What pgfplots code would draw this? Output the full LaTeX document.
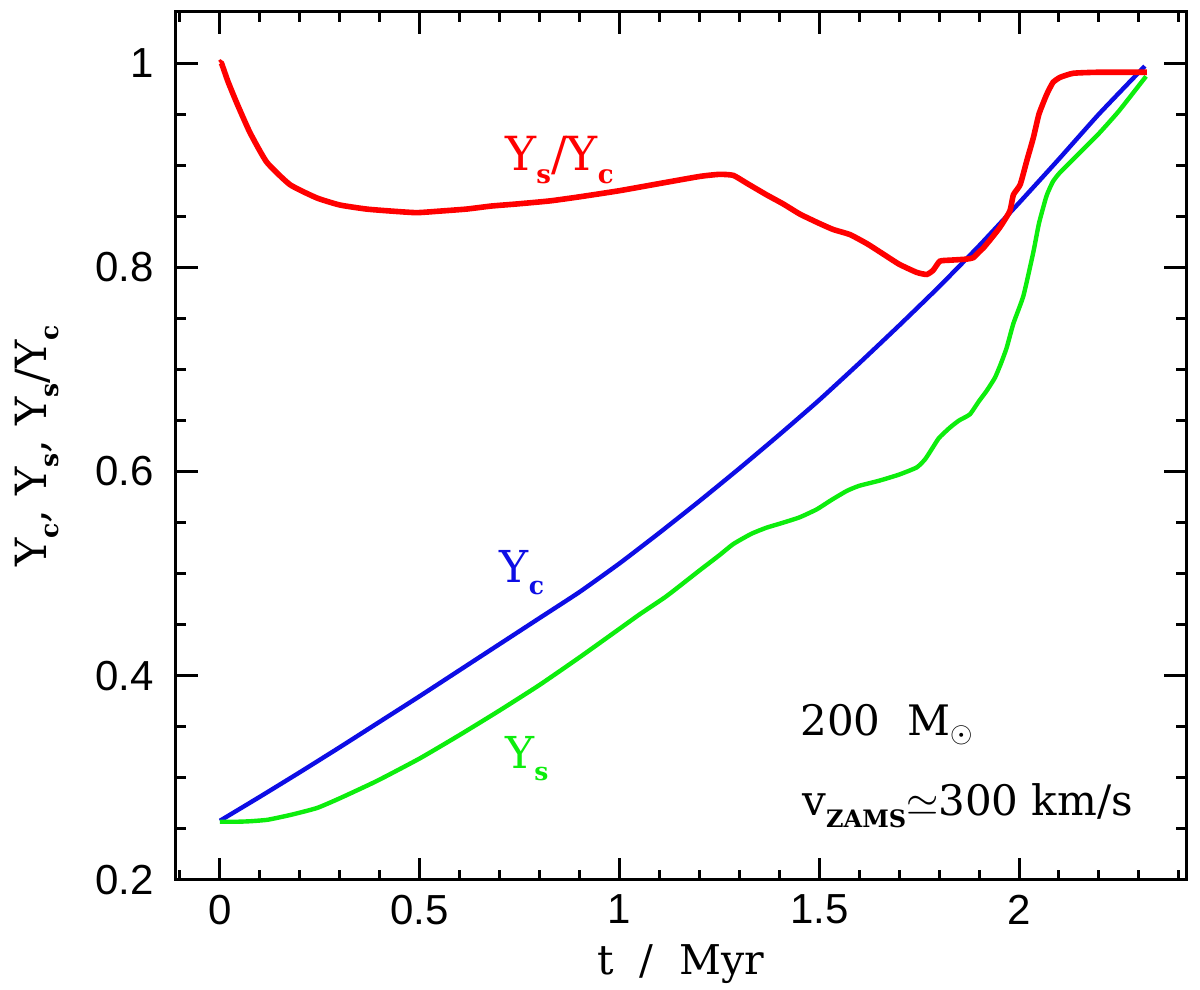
\documentclass[border=0pt]{standalone}
\usepackage{fontspec}
\setmainfont{DejaVu Serif}
\newfontfamily\tickfont{Liberation Sans}
\usepackage{pgfplots}
\usepackage{pgfplotstable}
\pgfplotsset{compat=1.18}
\usetikzlibrary{calc}
\definecolor{cred}{rgb}{1,0,0}
\definecolor{cblue}{rgb}{0.05,0.05,0.9}
\definecolor{cgreen}{rgb}{0.05,0.93,0.05}
\newcommand{\sub}[2][12.5]{\raisebox{-0.28em}{\fontsize{#1}{#1}\selectfont\bfseries #2}}

\pgfplotstableread{
t Y
0.000 0.258
0.100 0.2815
0.200 0.3055
0.300 0.330
0.400 0.355
0.500 0.380
0.600 0.4055
0.700 0.431
0.800 0.4565
0.900 0.482
1.000 0.510
1.100 0.540
1.200 0.571
1.300 0.603
1.400 0.636
1.500 0.670
1.600 0.706
1.700 0.743
1.800 0.781
1.900 0.821
2.000 0.863
2.100 0.906
2.200 0.950
2.315 0.997
}\Yc

\pgfplotstableread{
t Y
0.000 0.257
0.040 0.257
0.075 0.2575
0.120 0.259
0.180 0.264
0.243 0.2705
0.300 0.280
0.393 0.297
0.500 0.319
0.600 0.342
0.700 0.366
0.800 0.391
0.900 0.418
0.993 0.444
1.050 0.460
1.118 0.478
1.200 0.503
1.250 0.518
1.285 0.529
1.330 0.539
1.368 0.545
1.402 0.549
1.450 0.555
1.494 0.563
1.530 0.572
1.569 0.581
1.600 0.586
1.650 0.591
1.700 0.597
1.744 0.604
1.765 0.612
1.785 0.624
1.800 0.633
1.827 0.643
1.850 0.650
1.877 0.656
1.900 0.669
1.919 0.679
1.940 0.692
1.955 0.706
1.969 0.721
1.986 0.745
2.011 0.772
2.036 0.815
2.050 0.843
2.069 0.870
2.085 0.884
2.103 0.893
2.144 0.909
2.200 0.931
2.250 0.953
2.318 0.987
}\Ys

\pgfplotstableread{
t Y
0.000 1.000
0.004 0.9997
0.020 0.982
0.042 0.961
0.075 0.932
0.117 0.903
0.175 0.881
0.242 0.868
0.300 0.861
0.367 0.857
0.430 0.855
0.492 0.8535
0.550 0.855
0.617 0.857
0.680 0.860
0.743 0.862
0.826 0.865
0.900 0.869
1.000 0.875
1.100 0.882
1.2015 0.889
1.250 0.891
1.285 0.890
1.320 0.882
1.368 0.871
1.410 0.862
1.452 0.852
1.500 0.843
1.535 0.837
1.577 0.832
1.620 0.823
1.660 0.813
1.700 0.803
1.744 0.795
1.769 0.793
1.785 0.797
1.802 0.806
1.830 0.807
1.869 0.808
1.886 0.8095
1.900 0.815
1.911 0.819
1.930 0.828
1.952 0.839
1.977 0.855
1.986 0.871
2.003 0.881
2.020 0.905
2.036 0.927
2.050 0.950
2.069 0.969
2.085 0.981
2.103 0.986
2.136 0.990
2.200 0.991
2.320 0.991
}\Ratio

\begin{document}
\begin{tikzpicture}
\begin{axis}[
  scale only axis, width=505pt, height=434pt,
  xmin=-0.11, xmax=2.418, ymin=0.2, ymax=1.05,
  axis line style={line width=1.5pt},
  tick align=inside,
  xtick={0,0.5,1,1.5,2},
  minor xtick={-0.1,0.1,0.2,0.3,0.4,0.6,0.7,0.8,0.9,1.1,1.2,1.3,1.4,1.6,1.7,1.8,1.9,2.1,2.2,2.3,2.4},
  ytick={0.2,0.4,0.6,0.8,1},
  minor ytick={0.25,0.3,0.35,0.45,0.5,0.55,0.65,0.7,0.75,0.85,0.9,0.95},
  major tick length=11pt, minor tick length=5pt,
  tick style={black, line width=1.5pt},
  ticklabel style={font=\tickfont\fontsize{21}{21}\selectfont},
  /pgf/number format/assume math mode=true,
  xticklabel style={yshift=-4pt},
  yticklabel style={xshift=-7.5pt},
  xlabel={t~~/~~Myr},
  xlabel style={font=\fontsize{20.5}{20.5}\selectfont, at={(axis description cs:0.5,0)}, anchor=base, yshift=-47.5pt},
  ylabel={Y\sub[12.5]{c},~Y\sub[12.5]{s},~Y\sub[12.5]{s}/Y\sub[12.5]{c}},
  ylabel style={font=\fontsize{21.5}{21.5}\selectfont, at={(axis description cs:-0.1376,0.5)}, anchor=center},
]
\addplot[cblue, line width=2.2pt, smooth, tension=0.3] table[x=t,y=Y] {\Yc};
\addplot[cgreen, line width=2.2pt, smooth, tension=0.3] table[x=t,y=Y] {\Ys};
\addplot[cred, line width=2.8pt, smooth, tension=0.3] table[x=t,y=Y] {\Ratio};

\node[text=cred, font=\fontsize{23.5}{23.5}\selectfont] at (axis cs:0.85,0.905) {Y\sub[13]{s}/Y\sub[13]{c}};
\node[text=cblue, font=\fontsize{22}{22}\selectfont] at (axis cs:0.756,0.501) {Y\sub{c}};
\node[text=cgreen, font=\fontsize{22}{22}\selectfont] at (axis cs:0.768,0.319) {Y\sub{s}};
\node[anchor=base west, font=\fontsize{21}{21}\selectfont, inner sep=0pt] at (axis cs:1.452,0.341) {200~~M$_{\odot}$};
\node[anchor=base west, font=\fontsize{21}{21}\selectfont, inner sep=0pt] at (axis cs:1.457,0.2627) {v\sub[12]{ZAMS}$\simeq$300 km/s};
\end{axis}
\pgfresetboundingbox
\path ($(current axis.south west)+(-88pt,-55pt)$) rectangle ($(current axis.north east)+(7pt,6pt)$);
\end{tikzpicture}
\end{document}
